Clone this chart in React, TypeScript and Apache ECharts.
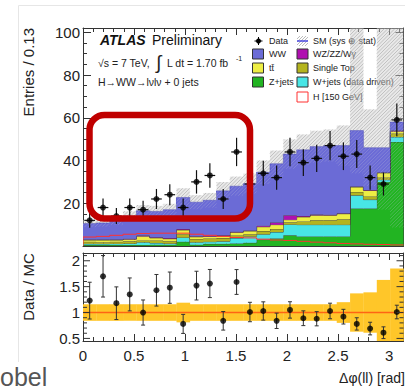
import React, { useEffect, useRef } from "react";
import * as echarts from "echarts";

// ---------------- data ----------------
const X_MAX = Math.PI;
const N_BINS = 24;
const binEdges: number[] = Array.from({ length: N_BINS + 1 }, (_, i) => (i * X_MAX) / N_BINS);
const binCenters: number[] = binEdges.slice(0, N_BINS).map((e, i) => (e + binEdges[i + 1]) / 2);

const dataCounts = [12, 18, 14, 18, 17, 22, 24, 18, 30, 33, 22, 44, 29, 34, 32, 44, 39, 41, 47, 42, 43, 32, 29, 59];

const zJets = [0.5, 0.5, 0.5, 0.5, 0.5, 0.6, 0.6, 2.0, 0.6, 1.0, 1.0, 1.2, 1.5, 3.0, 3.5, 5.0, 4.5, 4.5, 4.5, 4.5, 17.5, 17.5, 30.0, 48.7];
const wJets = [0.5, 0.5, 0.6, 0.7, 1.3, 0.8, 0.6, 2.0, 1.2, 1.0, 1.2, 2.5, 3.0, 2.5, 3.0, 5.1, 5.5, 5.5, 5.5, 5.5, 6.2, 4.2, 1.0, 2.3];
const singleTop = [1.0, 0.8, 0.9, 1.0, 0.8, 1.2, 1.0, 1.5, 1.5, 1.5, 1.5, 1.2, 1.0, 1.5, 1.5, 1.0, 1.5, 2.0, 2.0, 2.5, 1.6, 1.5, 1.0, 1.6];
const ttbar = [0.8, 1.0, 0.8, 1.0, 2.0, 1.2, 1.2, 2.0, 1.0, 1.0, 1.0, 1.5, 1.5, 2.0, 2.0, 1.2, 2.1, 2.4, 2.4, 2.6, 2.3, 2.8, 2.2, 1.1];
const diboson = [0.2, 0.2, 0.2, 0.2, 0.3, 0.3, 0.3, 0.4, 0.3, 0.3, 0.3, 0.3, 0.3, 0.5, 1.0, 2.1, 0.4, 0.3, 0.2, 0.2, 0.2, 0.2, 0.2, 0.3];
const ww = [7.5, 7.8, 8.8, 10.6, 11.6, 12.1, 13.3, 14.8, 15.9, 16.6, 20.8, 21.3, 21.9, 25.0, 27.5, 28.6, 31.0, 31.8, 32.4, 31.7, 26.2, 19.8, 11.6, 4.0];
const higgs = [4.2, 4.5, 5.0, 5.5, 5.8, 6.0, 6.0, 6.0, 5.5, 5.0, 4.5, 4.0, 3.8, 3.2, 2.8, 2.6, 2.2, 1.8, 1.5, 1.2, 1.0, 0.8, 0.7, 0.5];

// relative SM uncertainty drawn as the hatched band in the upper panel
const smUncUp = [0.16, 0.16, 0.16, 0.16, 0.16, 0.16, 0.16, 0.19, 0.16, 0.16, 0.16, 0.16, 0.16, 0.16, 0.16, 0.16, 0.16, 0.16, 0.16, 0.2, 0.95, 0.39, 1.3, 0.9];
const smUncDown = [0.16, 0.16, 0.16, 0.16, 0.16, 0.16, 0.16, 0.19, 0.16, 0.16, 0.16, 0.16, 0.16, 0.16, 0.16, 0.16, 0.16, 0.16, 0.16, 0.2, 0.37, 0.39, 0.63, 0.85];

const ratioValues = [1.23, 1.7, 1.18, 1.35, 1.0, 1.43, 1.48, 0.78, 1.52, 1.56, 0.84, 1.59, 1.01, 1.03, 0.84, 1.05, 0.89, 0.88, 1.03, 0.92, 0.78, 0.69, 0.61, 1.01];
const ratioBandErr = [0.16, 0.16, 0.16, 0.16, 0.16, 0.16, 0.16, 0.19, 0.16, 0.16, 0.16, 0.16, 0.16, 0.16, 0.16, 0.16, 0.16, 0.16, 0.16, 0.2, 0.37, 0.39, 0.63, 0.85];

const ratioMajorTicks = [0.5, 1, 1.5, 2];
const ratioMinorTicks = [0.6, 0.7, 0.8, 0.9, 1.1, 1.2, 1.3, 1.4, 1.6, 1.7, 1.8, 1.9, 2.1];

const Y_MAX = 102;
const R_MIN = 0.45;
const R_MAX = 2.15;

const FONT = "'Liberation Sans', Arial, Helvetica, sans-serif";

const layers = [
  { name: "Z+jets", values: zJets, color: "#22b422" },
  { name: "W+jets (data driven)", values: wJets, color: "#48e6e6" },
  { name: "Single Top", values: singleTop, color: "#b4b41e" },
  { name: "tt\u0304", values: ttbar, color: "#eeee44" },
  { name: "WZ/ZZ/W\u03b3", values: diboson, color: "#b010b0" },
  { name: "WW", values: ww, color: "#6b6bd6" },
];

const mcTotal = binCenters.map((_, i) => layers.reduce((s, l) => s + l.values[i], 0));

// hatch lines ("/") inside rect, in pixel space
function hatch(x0: number, y0: number, x1: number, y1: number, step: number, stroke: string, width: number) {
  const out: any[] = [];
  const cStart = x0 + y0;
  const cEnd = x1 + y1;
  const first = Math.ceil(cStart / step) * step;
  for (let c = first; c <= cEnd; c += step) {
    const xa = Math.max(x0, c - y1);
    const xb = Math.min(x1, c - y0);
    if (xb > xa) {
      out.push({
        type: "line",
        shape: { x1: xa, y1: c - xa, x2: xb, y2: c - xb },
        style: { stroke, lineWidth: width },
        silent: true,
      });
    }
  }
  return out;
}

export default function App() {
  const ref = useRef<HTMLDivElement>(null);

  useEffect(() => {
    if (!ref.current) return;
    const chart = echarts.init(ref.current, undefined, { renderer: "svg" });

    const stackSeries = layers.map((layer, k) => ({
      type: "custom",
      xAxisIndex: 0,
      yAxisIndex: 0,
      clip: true,
      z: 2,
      data: [[0, 0]],
      renderItem: (params: any, api: any) => {
        const lo = binCenters.map((_, i) => layers.slice(0, k).reduce((s, l) => s + l.values[i], 0));
        const hi = lo.map((v, i) => v + layer.values[i]);
        const top: number[][] = [];
        for (let i = 0; i < N_BINS; i++) {
          top.push(api.coord([binEdges[i], hi[i]]));
          top.push(api.coord([binEdges[i + 1], hi[i]]));
        }
        const bottom: number[][] = [];
        for (let i = N_BINS - 1; i >= 0; i--) {
          bottom.push(api.coord([binEdges[i + 1], lo[i]]));
          bottom.push(api.coord([binEdges[i], lo[i]]));
        }
        return {
          type: "group",
          children: [
            { type: "polygon", shape: { points: top.concat(bottom) }, style: { fill: layer.color, stroke: "none" } },
            {
              type: "polyline",
              shape: { points: top },
              style: { fill: "none", stroke: k === layers.length - 1 ? "#4a4ac0" : "#3a3a3a", lineWidth: 0.8 },
            },
          ],
        };
      },
    }));

    const hatchSeries = {
      type: "custom",
      xAxisIndex: 0,
      yAxisIndex: 0,
      clip: true,
      z: 3,
      data: [[0, 0]],
      renderItem: (params: any, api: any) => {
        const children: any[] = [];
        for (let i = 0; i < N_BINS; i++) {
          const hiV = Math.min(Y_MAX, mcTotal[i] * (1 + smUncUp[i]));
          const loV = Math.max(0, mcTotal[i] * (1 - smUncDown[i]));
          const p0 = api.coord([binEdges[i], hiV]);
          const pm = api.coord([binEdges[i + 1], mcTotal[i]]);
          const p1 = api.coord([binEdges[i + 1], loV]);
          // above the stack: light grey hatch
          children.push({
            type: "rect",
            shape: { x: p0[0], y: p0[1], width: pm[0] - p0[0], height: pm[1] - p0[1] },
            style: { fill: "rgba(205,205,205,0.45)" },
          });
          children.push(...hatch(p0[0], p0[1], pm[0], pm[1], 3.5, "rgba(150,150,150,0.6)", 0.8));
          // over the stack: faint hatch
          children.push(...hatch(p0[0], pm[1], p1[0], p1[1], 3.5, "rgba(190,190,220,0.35)", 0.8));
        }
        return { type: "group", children };
      },
    };

    const higgsSeries = {
      type: "custom",
      xAxisIndex: 0,
      yAxisIndex: 0,
      clip: true,
      z: 4,
      data: [[0, 0]],
      renderItem: (params: any, api: any) => {
        const pts: number[][] = [api.coord([0, 0])];
        for (let i = 0; i < N_BINS; i++) {
          pts.push(api.coord([binEdges[i], higgs[i]]));
          pts.push(api.coord([binEdges[i + 1], higgs[i]]));
        }
        return { type: "polyline", shape: { points: pts }, style: { fill: "none", stroke: "#ff3030", lineWidth: 1 } };
      },
    };

    const halfBin = (X_MAX / N_BINS) * 0.4;

    const dataErrSeries = {
      type: "custom",
      xAxisIndex: 0,
      yAxisIndex: 0,
      z: 5,
      data: dataCounts.map((v, i) => [binCenters[i], v, Math.sqrt(v)]),
      renderItem: (params: any, api: any) => {
        const x = api.value(0);
        const y = api.value(1);
        const e = api.value(2);
        const t = api.coord([x, y + e]);
        const b = api.coord([x, y - e]);
        const l = api.coord([x - halfBin, y]);
        const r = api.coord([x + halfBin, y]);
        return {
          type: "group",
          children: [
            { type: "line", shape: { x1: t[0], y1: t[1], x2: b[0], y2: b[1] }, style: { stroke: "#111", lineWidth: 1.2 } },
            { type: "line", shape: { x1: l[0], y1: l[1], x2: r[0], y2: r[1] }, style: { stroke: "#111", lineWidth: 1.2 } },
          ],
        };
      },
    };

    const dataPointSeries = {
      type: "scatter",
      xAxisIndex: 0,
      yAxisIndex: 0,
      z: 6,
      symbol: "circle",
      symbolSize: 6,
      itemStyle: { color: "#000" },
      data: dataCounts.map((v, i) => [binCenters[i], v]),
    };

    const ratioBandSeries = {
      type: "custom",
      xAxisIndex: 2,
      yAxisIndex: 2,
      clip: true,
      z: 2,
      data: [[0, 1]],
      renderItem: (params: any, api: any) => {
        const children: any[] = [];
        for (let i = 0; i < N_BINS; i++) {
          const p0 = api.coord([binEdges[i], Math.min(R_MAX, 1 + ratioBandErr[i])]);
          const p1 = api.coord([binEdges[i + 1], Math.max(R_MIN, 1 - ratioBandErr[i])]);
          children.push({
            type: "rect",
            shape: { x: p0[0], y: p0[1], width: p1[0] - p0[0] + 0.3, height: p1[1] - p0[1] },
            style: { fill: "#ffc629" },
          });
        }
        const a = api.coord([0, 1]);
        const b = api.coord([X_MAX, 1]);
        children.push({ type: "line", shape: { x1: a[0], y1: a[1], x2: b[0], y2: b[1] }, style: { stroke: "#ff6414", lineWidth: 1.5 } });
        return { type: "group", children };
      },
    };

    const ratioErrSeries = {
      type: "custom",
      xAxisIndex: 2,
      yAxisIndex: 2,
      clip: true,
      z: 5,
      data: ratioValues.map((r, i) => [binCenters[i], r, r / Math.sqrt(dataCounts[i])]),
      renderItem: (params: any, api: any) => {
        const x = api.value(0);
        const y = api.value(1);
        const e = api.value(2);
        const t = api.coord([x, y + e]);
        const b = api.coord([x, y - e]);
        return {
          type: "group",
          children: [
            { type: "line", shape: { x1: t[0], y1: t[1], x2: b[0], y2: b[1] }, style: { stroke: "#333", lineWidth: 1 } },
            { type: "line", shape: { x1: t[0] - 2, y1: t[1], x2: t[0] + 2, y2: t[1] }, style: { stroke: "#333", lineWidth: 1 } },
            { type: "line", shape: { x1: b[0] - 2, y1: b[1], x2: b[0] + 2, y2: b[1] }, style: { stroke: "#333", lineWidth: 1 } },
          ],
        };
      },
    };

    const ratioPointSeries = {
      type: "scatter",
      xAxisIndex: 2,
      yAxisIndex: 2,
      z: 6,
      symbol: "circle",
      symbolSize: 6,
      itemStyle: { color: "#000" },
      data: ratioValues.map((r, i) => [binCenters[i], r]),
    };

    const ratioTickSeries = {
      type: "custom",
      xAxisIndex: 2,
      yAxisIndex: 2,
      z: 7,
      silent: true,
      data: ratioMajorTicks.map((v) => [0, v, 7]).concat(ratioMinorTicks.map((v) => [0, v, 4])),
      renderItem: (params: any, api: any) => {
        const v = api.value(1);
        const len = api.value(2);
        const l = api.coord([0, v]);
        const r = api.coord([X_MAX, v]);
        return {
          type: "group",
          children: [
            { type: "line", shape: { x1: l[0], y1: l[1], x2: l[0] + len, y2: l[1] }, style: { stroke: "#333", lineWidth: 1 } },
            { type: "line", shape: { x1: r[0] - len, y1: r[1], x2: r[0], y2: r[1] }, style: { stroke: "#333", lineWidth: 1 } },
          ],
        };
      },
    };

    const axisLine = { show: true, onZero: false, lineStyle: { color: "#333", width: 1 } };
    const labelStyle = { color: "#222", fontSize: 15, fontFamily: FONT };

    const xBase = (gridIndex: number, position: string, showLabel: boolean) => ({
      type: "value",
      gridIndex,
      position,
      min: 0,
      max: X_MAX,
      interval: 0.5,
      axisLine,
      axisTick: { show: true, inside: true, length: 7, lineStyle: { color: "#333" } },
      minorTick: { show: true, splitNumber: 5, length: 4, lineStyle: { color: "#333" } },
      splitLine: { show: false },
      axisLabel: { show: showLabel, ...labelStyle, margin: 7, showMaxLabel: false },
    });

    // legend graphics
    const legendText = (x: number, y: number, text: string) => ({
      type: "text",
      x,
      y,
      style: { text, fill: "#222", font: `9px ${FONT}`, textVerticalAlign: "middle" },
    });
    const legendBox = (x: number, y: number, color: string, stroke = "#333") => ({
      type: "rect",
      shape: { x, y: y - 5, width: 11, height: 10 },
      style: { fill: color, stroke, lineWidth: 1 },
    });

    const smHatch = hatch(297, 36, 308, 46, 3, "#aaa", 0.8);

    const graphic: any[] = [
      // slide frame lines
      { type: "line", shape: { x1: 18.5, y1: 5.5, x2: 18.5, y2: 362 }, style: { stroke: "#e6e6e6", lineWidth: 1 } },
      { type: "line", shape: { x1: 18.5, y1: 5.5, x2: 405, y2: 5.5 }, style: { stroke: "#e6e6e6", lineWidth: 1 } },
      // y titles
      {
        type: "text",
        x: 28,
        y: 28,
        rotation: Math.PI / 2,
        style: { text: "Entries / 0.13", fill: "#222", font: `15px ${FONT}`, textAlign: "right", textVerticalAlign: "middle" },
      },
      {
        type: "text",
        x: 28,
        y: 287,
        rotation: Math.PI / 2,
        style: { text: "Data / MC", fill: "#222", font: `15px ${FONT}`, textAlign: "center", textVerticalAlign: "middle" },
      },
      {
        type: "text",
        x: 405,
        y: 378,
        style: { text: "\u0394\u03c6(ll) [rad]", fill: "#222", font: `14px ${FONT}`, textAlign: "right", textVerticalAlign: "middle" },
      },
      // ATLAS label
      {
        type: "text",
        x: 100,
        y: 40,
        style: { text: "ATLAS", fill: "#111", font: `italic bold 14px ${FONT}`, textVerticalAlign: "middle" },
      },
      {
        type: "text",
        x: 152,
        y: 40,
        style: { text: "Preliminary", fill: "#111", font: `14px ${FONT}`, textVerticalAlign: "middle" },
      },
      {
        type: "text",
        x: 98,
        y: 63,
        style: { text: "\u221as = 7 TeV,", fill: "#222", font: `10.5px ${FONT}`, textVerticalAlign: "middle" },
      },
      {
        type: "text",
        x: 156,
        y: 62,
        style: { text: "\u222b", fill: "#222", font: `19px ${FONT}`, textVerticalAlign: "middle" },
      },
      {
        type: "text",
        x: 167,
        y: 63,
        style: { text: "L dt = 1.70 fb", fill: "#222", font: `10.5px ${FONT}`, textVerticalAlign: "middle" },
      },
      {
        type: "text",
        x: 236,
        y: 58,
        style: { text: "-1", fill: "#222", font: `7px ${FONT}`, textVerticalAlign: "middle" },
      },
      {
        type: "text",
        x: 98,
        y: 82,
        style: { text: "H\u2192WW\u2192l\u03bdl\u03bd + 0 jets", fill: "#222", font: `10.5px ${FONT}`, textVerticalAlign: "middle" },
      },
      // legend column 1
      { type: "circle", shape: { cx: 258.5, cy: 41, r: 2.5 }, style: { fill: "#000" } },
      { type: "line", shape: { x1: 258.5, y1: 37, x2: 258.5, y2: 45 }, style: { stroke: "#000", lineWidth: 1 } },
      { type: "line", shape: { x1: 254.5, y1: 41, x2: 262.5, y2: 41 }, style: { stroke: "#000", lineWidth: 1 } },
      legendText(269, 41, "Data"),
      legendBox(252.5, 54, "#6b6bd6"),
      legendText(269, 54, "WW"),
      legendBox(252.5, 68, "#eeee44"),
      legendText(269, 68, "tt\u0304"),
      legendBox(252.5, 82, "#22b422"),
      legendText(269, 82, "Z+jets"),
      // legend column 2
      ...smHatch,
      { type: "line", shape: { x1: 297, y1: 41, x2: 308, y2: 41 }, style: { stroke: "#4a4ae0", lineWidth: 1.5 } },
      legendText(313, 41, "SM (sys \u2295 stat)"),
      legendBox(297, 54, "#b010b0"),
      legendText(313, 54, "WZ/ZZ/W\u03b3"),
      legendBox(297, 68, "#b4b41e"),
      legendText(313, 68, "Single Top"),
      legendBox(297, 82, "#48e6e6"),
      legendText(313, 82, "W+jets (data driven)"),
      legendBox(297, 97, "#ffffff", "#ff3030"),
      legendText(313, 97, "H [150 GeV]"),
      // highlight
      {
        type: "rect",
        z: 100,
        shape: { x: 89.5, y: 115, width: 160.5, height: 103.5, r: 15 },
        style: { fill: "none", stroke: "#c00000", lineWidth: 6.5 },
      },
      // stray label at bottom-left
      {
        type: "text",
        x: 0,
        y: 389,
        style: { text: "obel", fill: "#555", font: `25px ${FONT}`, textVerticalAlign: "bottom" },
      },
    ];

    chart.setOption({
      animation: false,
      backgroundColor: "#ffffff",
      grid: [
        { left: 83, top: 28, width: 320.5, height: 218, containLabel: false },
        { left: 83, top: 253, width: 320.5, height: 88, containLabel: false },
      ],
      xAxis: [xBase(0, "bottom", false), xBase(0, "top", false), xBase(1, "bottom", true), xBase(1, "top", false)],
      yAxis: [
        {
          type: "value",
          gridIndex: 0,
          position: "left",
          min: 0,
          max: Y_MAX,
          interval: 20,
          axisLine,
          axisTick: { show: true, inside: true, length: 8, lineStyle: { color: "#333" } },
          minorTick: { show: true, splitNumber: 4, length: 4, lineStyle: { color: "#333" } },
          splitLine: { show: false },
          axisLabel: { ...labelStyle, margin: 3, showMinLabel: false, showMaxLabel: false },
        },
        {
          type: "value",
          gridIndex: 0,
          position: "right",
          min: 0,
          max: Y_MAX,
          interval: 20,
          axisLine,
          axisTick: { show: true, inside: true, length: 8, lineStyle: { color: "#333" } },
          minorTick: { show: true, splitNumber: 4, length: 4, lineStyle: { color: "#333" } },
          splitLine: { show: false },
          axisLabel: { show: false },
        },
        {
          type: "value",
          gridIndex: 1,
          position: "left",
          min: R_MIN,
          max: R_MAX,
          interval: 0.05,
          axisLine,
          axisTick: { show: false },
          splitLine: { show: false },
          axisLabel: {
            ...labelStyle,
            margin: 3,
            formatter: (v: number) => {
              const d = v * 2;
              return Math.abs(d - Math.round(d)) < 1e-6 ? String(Math.round(v * 10) / 10) : "";
            },
          },
        },
        {
          type: "value",
          gridIndex: 1,
          position: "right",
          min: R_MIN,
          max: R_MAX,
          interval: 0.05,
          axisLine,
          axisTick: { show: false },
          splitLine: { show: false },
          axisLabel: { show: false },
        },
      ],
      series: [
        ...stackSeries,
        hatchSeries,
        higgsSeries,
        dataErrSeries,
        dataPointSeries,
        ratioBandSeries,
        ratioErrSeries,
        ratioPointSeries,
        ratioTickSeries,
      ],
      graphic,
    });

    return () => chart.dispose();
  }, []);

  return <div ref={ref} style={{ position: "absolute", left: 0, top: 0, width: 405, height: 389 }} />;
}
